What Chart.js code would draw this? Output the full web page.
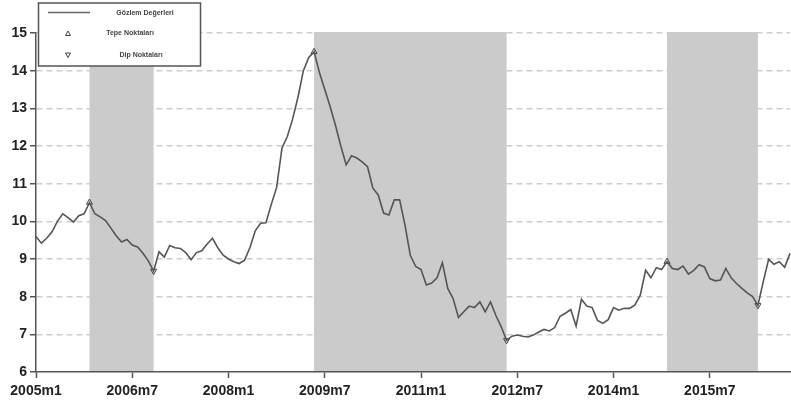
<!DOCTYPE html>
<html>
<head>
<meta charset="utf-8">
<script src="https://cdn.jsdelivr.net/npm/chart.js@4"></script>
<style>
html,body{margin:0;padding:0;background:#fff;overflow:hidden;}
#wrap{width:791px;height:408px;position:relative;}
</style>
</head>
<body>
<div id="wrap"><canvas id="c" width="791" height="408"></canvas></div>
<script>
// Monthly observations, starting 2005m1
const values = [
  9.60, 9.42, 9.55, 9.72, 10.00, 10.20, 10.10, 9.98, 10.15, 10.20,
  10.50, 10.20, 10.12, 10.02, 9.82, 9.62, 9.45, 9.52, 9.37, 9.32,
  9.15, 8.95, 8.68, 9.19, 9.05, 9.36, 9.30, 9.28, 9.17, 8.98,
  9.17, 9.22, 9.40, 9.55, 9.30, 9.10, 9.00, 8.93, 8.88, 8.97,
  9.30, 9.75, 9.95, 9.96, 10.45, 10.90, 11.95, 12.25, 12.72, 13.30,
  14.00, 14.35, 14.50, 13.95, 13.50, 13.05, 12.55, 12.00, 11.50, 11.74,
  11.68, 11.58, 11.45, 10.88, 10.70, 10.22, 10.17, 10.57, 10.57, 9.90,
  9.10, 8.80, 8.72, 8.31, 8.36, 8.50, 8.90, 8.22, 7.95, 7.45,
  7.60, 7.75, 7.71, 7.86, 7.60, 7.86, 7.50, 7.20, 6.84, 6.95,
  6.98, 6.95, 6.93, 6.98, 7.06, 7.13, 7.09, 7.18, 7.48, 7.56,
  7.66, 7.22, 7.93, 7.75, 7.71, 7.37, 7.29, 7.39, 7.71, 7.64,
  7.69, 7.69, 7.78, 8.04, 8.70, 8.50, 8.77, 8.72, 8.93, 8.75,
  8.72, 8.81, 8.60, 8.70, 8.85, 8.79, 8.48, 8.42, 8.44, 8.75,
  8.50, 8.35, 8.22, 8.10, 8.00, 7.77, 8.40, 8.99, 8.86, 8.93,
  8.78, 9.15
];
// Turning points (month index from 2005m1)
const peakIdx = [10, 52, 118];
const troughIdx = [22, 88, 135];
// X tick positions (month index) and labels
const tickIdx = [0, 18, 36, 54, 72, 90, 108, 126];
const tickLabels = ["2005m1", "2006m7", "2008m1", "2009m7", "2011m1", "2012m7", "2014m1", "2015m7"];
const yTicks = [6, 7, 8, 9, 10, 11, 12, 13, 14, 15];
const legendLabels = ["Gözlem Değerleri", "Tepe Noktaları", "Dip Noktaları"];

const lineData = values.map((v, i) => ({x: i, y: v}));
const peakData = peakIdx.map(i => ({x: i, y: values[i]}));
const troughData = troughIdx.map(i => ({x: i, y: values[i]}));
const shaded = peakIdx.map((p, k) => [p, troughIdx[k]]);

const FONT = "'Liberation Sans', Arial, sans-serif";
const AX = '#555';

const shadePlugin = {
  id: 'shade',
  beforeDatasetsDraw(chart) {
    const {ctx, chartArea, scales} = chart;
    ctx.save();
    ctx.fillStyle = '#cbcbcb';
    shaded.forEach(([a, b]) => {
      const x0 = scales.x.getPixelForValue(a);
      const x1 = scales.x.getPixelForValue(b);
      const yt = scales.y.getPixelForValue(15) - 1;
      ctx.fillRect(x0, yt, x1 - x0, chartArea.bottom - yt);
    });
    ctx.restore();
  }
};

const legendPlugin = {
  id: 'boxLegend',
  afterDraw(chart) {
    const ctx = chart.ctx;
    ctx.save();
    ctx.fillStyle = '#fff';
    ctx.fillRect(38, 3, 162, 63);
    ctx.strokeStyle = '#555';
    ctx.lineWidth = 1.5;
    ctx.strokeRect(38.5, 3, 162, 63);
    ctx.strokeStyle = '#666';
    ctx.lineWidth = 1.5;
    ctx.beginPath(); ctx.moveTo(48, 12.5); ctx.lineTo(90, 12.5); ctx.stroke();
    ctx.lineWidth = 1;
    ctx.strokeStyle = '#444';
    ctx.beginPath(); ctx.moveTo(68, 31); ctx.lineTo(65.5, 35.5); ctx.lineTo(70.5, 35.5); ctx.closePath(); ctx.stroke();
    ctx.beginPath(); ctx.moveTo(65.5, 53); ctx.lineTo(70.5, 53); ctx.lineTo(68, 57.5); ctx.closePath(); ctx.stroke();
    ctx.fillStyle = '#444';
    ctx.font = 'bold 7px ' + FONT;
    ctx.textAlign = 'center';
    ctx.textBaseline = 'middle';
    ctx.fillText(legendLabels[0], 145, 13);
    ctx.fillText(legendLabels[1], 130, 33.5);
    ctx.fillText(legendLabels[2], 141, 55.5);
    ctx.restore();
  }
};

new Chart(document.getElementById('c'), {
  type: 'scatter',
  data: {
    datasets: [
      {label: legendLabels[0], data: lineData, showLine: true, borderColor: '#555', borderWidth: 1.6, pointRadius: 0, tension: 0},
      {label: legendLabels[1], data: peakData, pointStyle: 'triangle', pointRadius: 3.5, borderColor: '#444', borderWidth: 1, backgroundColor: 'rgba(0,0,0,0)'},
      {label: legendLabels[2], data: troughData, pointStyle: 'triangle', rotation: 180, pointRadius: 3.5, borderColor: '#444', borderWidth: 1, backgroundColor: 'rgba(0,0,0,0)'}
    ]
  },
  options: {
    responsive: false,
    animation: false,
    devicePixelRatio: 1,
    clip: false,
    layout: {autoPadding: false, padding: {top: 33, right: 1, left: 0, bottom: 0}},
    plugins: {legend: {display: false}, tooltip: {enabled: false}},
    scales: {
      x: {
        type: 'linear',
        min: 0,
        max: values.length - 1,
        afterBuildTicks(scale) { scale.ticks = tickIdx.map(v => ({value: v})); },
        afterFit(scale) { scale.height = 36; scale.paddingRight = 0; scale.paddingLeft = 0; },
        ticks: {autoSkip: false, maxRotation: 0, padding: 5, color: '#222', font: {family: FONT, size: 14, weight: 'bold'},
          callback(v) { const k = tickIdx.indexOf(v); return k >= 0 ? tickLabels[k] : ''; }},
        grid: {drawOnChartArea: false, drawTicks: true, tickLength: 6, tickColor: AX, tickWidth: 1.5},
        border: {display: true, color: AX, width: 1.5, z: 1}
      },
      y: {
        min: 6,
        max: 15,
        afterBuildTicks(scale) { scale.ticks = yTicks.map(v => ({value: v})); },
        afterFit(scale) { scale.width = 36; scale.paddingTop = 0; scale.paddingBottom = 0; },
        ticks: {padding: 3, color: '#222', font: {family: FONT, size: 14, weight: 'bold'}, callback(v) { return String(v); }},
        grid: {
          color: ctx => (ctx.tick && ctx.tick.value === 6) ? 'rgba(0,0,0,0)' : '#cdcdcd',
          lineWidth: 1.5, drawTicks: true, tickLength: 6, tickColor: AX, tickWidth: 1.5, tickBorderDash: []
        },
        border: {display: true, color: AX, width: 1.5, dash: [6, 4], z: 1}
      }
    }
  },
  plugins: [shadePlugin, legendPlugin]
});
</script>
</body>
</html>
